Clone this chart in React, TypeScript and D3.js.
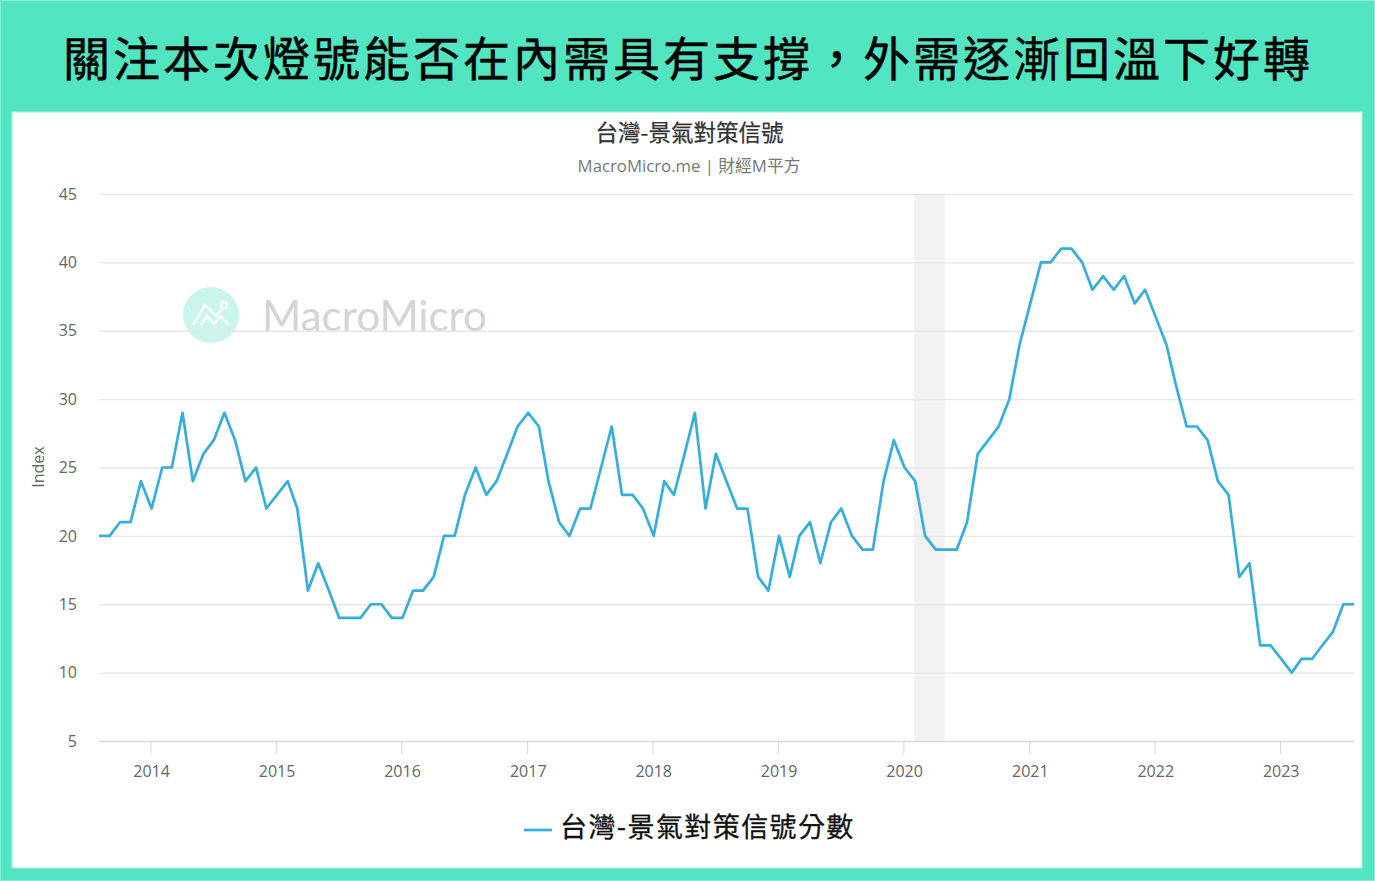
import { useEffect, useRef } from 'react';
import * as d3 from 'd3';

const headline = '關注本次燈號能否在內需具有支撐，外需逐漸回溫下好轉';
const chartTitle = '台灣-景氣對策信號';
const chartSubtitle = 'MacroMicro.me | 財經M平方';
const seriesName = '台灣-景氣對策信號分數';
const yTicks = [5, 10, 15, 20, 25, 30, 35, 40, 45];
const yearTicks = [2014, 2015, 2016, 2017, 2018, 2019, 2020, 2021, 2022, 2023];
const recession = ['2020-01-28', '2020-04-26'];

// monthly score, one value per month end, Jul 2013 to Jul 2023
const firstMonth = [2013, 7];
const scores = [
  20, 20, 21, 21, 24, 22,
  25, 25, 29, 24, 26, 27, 29, 27, 24, 25, 22, 23,
  24, 22, 16, 18, 16, 14, 14, 14, 15, 15, 14, 14,
  16, 16, 17, 20, 20, 23, 25, 23, 24, 26, 28, 29,
  28, 24, 21, 20, 22, 22, 25, 28, 23, 23, 22, 20,
  24, 23, 26, 29, 22, 26, 24, 22, 22, 17, 16, 20,
  17, 20, 21, 18, 21, 22, 20, 19, 19, 24, 27, 25,
  24, 20, 19, 19, 19, 21, 26, 27, 28, 30, 34, 37,
  40, 40, 41, 41, 40, 38, 39, 38, 39, 37, 38, 36,
  34, 31, 28, 28, 27, 24, 23, 17, 18, 12, 12, 11,
  10, 11, 11, 12, 13, 15, 15,
];

const WIDTH = 1375;
const HEIGHT = 881;
const CJK = '"Noto Sans CJK TC", "Noto Sans", sans-serif';
const LATIN = '"Open Sans", "Noto Sans CJK TC", sans-serif';

export default function App() {
  const ref = useRef<SVGSVGElement>(null);

  useEffect(() => {
    if (!ref.current) return;
    const svg = d3.select(ref.current);
    svg.selectAll('*').remove();

    svg.append('rect').attr('width', WIDTH).attr('height', HEIGHT).attr('fill', '#52e5c1');
    svg.append('rect').attr('x', 0.5).attr('y', 0.5).attr('width', WIDTH - 1).attr('height', HEIGHT - 1).attr('fill', 'none').attr('stroke', '#86edd3');
    svg.append('rect').attr('x', 12).attr('y', 112).attr('width', 1350).attr('height', 756).attr('fill', '#fff').attr('stroke', '#a5f1de').attr('stroke-width', 1);

    svg
      .append('text')
      .attr('x', 688)
      .attr('y', 76)
      .attr('text-anchor', 'middle')
      .attr('font-family', CJK)
      .attr('font-size', 47)
      .attr('font-weight', 400)
      .attr('stroke', '#000')
      .attr('stroke-width', 0.5)
      .attr('letter-spacing', 3)
      .attr('fill', '#000')
      .text(headline);

    svg
      .append('text')
      .attr('x', 689.5)
      .attr('y', 141)
      .attr('text-anchor', 'middle')
      .attr('font-family', CJK)
      .attr('font-size', 22.5)
      .attr('font-weight', 400)
      .attr('stroke', '#333')
      .attr('stroke-width', 0.25)
      .attr('fill', '#333')
      .text(chartTitle);

    svg
      .append('text')
      .attr('x', 689)
      .attr('y', 172)
      .attr('text-anchor', 'middle')
      .attr('font-family', LATIN)
      .attr('font-size', 16.75)
      .attr('fill', '#777')
      .text(chartSubtitle);

    const dates = scores.map((_, i) => new Date(firstMonth[0], firstMonth[1] + i, 0));
    const x = d3.scaleTime().domain([dates[0], dates[dates.length - 1]]).range([99, 1354]);
    const y = d3.scaleLinear().domain([5, 45]).range([741, 194]);

    // watermark
    const mark = svg.append('g');
    mark.append('circle').attr('cx', 211).attr('cy', 315).attr('r', 28).attr('fill', '#c9f5ed');
    mark
      .append('path')
      .attr('d', 'M193,325 L205,305 L216,316 L223,308 M201,325 L207,316 L214,324 L221,316 L229,325')
      .attr('fill', 'none')
      .attr('stroke', '#fff')
      .attr('stroke-width', 2.4);
    mark.append('circle').attr('cx', 224).attr('cy', 305).attr('r', 3).attr('fill', 'none').attr('stroke', '#fff').attr('stroke-width', 2);
    mark
      .append('text')
      .attr('x', 262)
      .attr('y', 331)
      .attr('font-family', '"Lato", sans-serif')
      .attr('font-size', 42.2)
      .attr('fill', '#d4d4d4')
      .text('MacroMicro');

    svg
      .append('rect')
      .attr('x', x(new Date(recession[0])))
      .attr('y', y(45))
      .attr('width', x(new Date(recession[1])) - x(new Date(recession[0])))
      .attr('height', y(5) - y(45))
      .attr('fill', '#f2f2f2');

    const yAxis = svg
      .append('g')
      .attr('transform', 'translate(99,0)')
      .call(d3.axisLeft(y).tickValues(yTicks).tickSize(0).tickPadding(22).tickFormat(d3.format('d')));
    yAxis.select('.domain').remove();
    yAxis.selectAll('text').attr('font-family', LATIN).attr('font-size', 16).attr('fill', '#666');
    yAxis
      .selectAll('line')
      .attr('x2', 1255)
      .attr('stroke', (d) => (d === 5 ? '#d8d8d8' : '#e6e6e6'))
      .attr('stroke-width', 1.4);

    const xAxis = svg
      .append('g')
      .attr('transform', 'translate(0,741)')
      .call(
        d3
          .axisBottom(x)
          .tickValues(yearTicks.map((yr) => new Date(yr, 0, 1)))
          .tickSize(13)
          .tickPadding(12)
          .tickFormat((d) => String((d as Date).getFullYear())),
      );
    xAxis.select('.domain').remove();
    xAxis.selectAll('line').attr('stroke', '#d8d8d8').attr('transform', 'translate(-1.5,0)');
    xAxis.selectAll('text').attr('font-family', LATIN).attr('font-size', 16).attr('fill', '#666').attr('dx', -0.8);

    svg
      .append('text')
      .attr('transform', 'translate(44,467) rotate(-90)')
      .attr('text-anchor', 'middle')
      .attr('font-family', LATIN)
      .attr('font-size', 16)
      .attr('fill', '#666')
      .text('Index');

    const line = d3
      .line<number>()
      .x((_, i) => x(dates[i]))
      .y((d) => y(d));

    svg
      .append('path')
      .datum(scores)
      .attr('fill', 'none')
      .attr('stroke', '#35aedb')
      .attr('stroke-width', 2.7)
      .attr('stroke-linejoin', 'round')
      .attr('d', line);

    // legend
    svg.append('line').attr('x1', 524).attr('x2', 552).attr('y1', 830).attr('y2', 830).attr('stroke', '#35aedb').attr('stroke-width', 2.7);
    svg
      .append('text')
      .attr('x', 560)
      .attr('y', 837)
      .attr('font-family', CJK)
      .attr('font-size', 27)
      .attr('font-weight', 400)
      .attr('stroke', '#111')
      .attr('stroke-width', 0.3)
      .attr('letter-spacing', 1.4)
      .attr('fill', '#111')
      .text(seriesName);
  }, []);

  return <svg ref={ref} width={WIDTH} height={HEIGHT} style={{ position: 'absolute', left: 0, top: 0 }} />;
}
